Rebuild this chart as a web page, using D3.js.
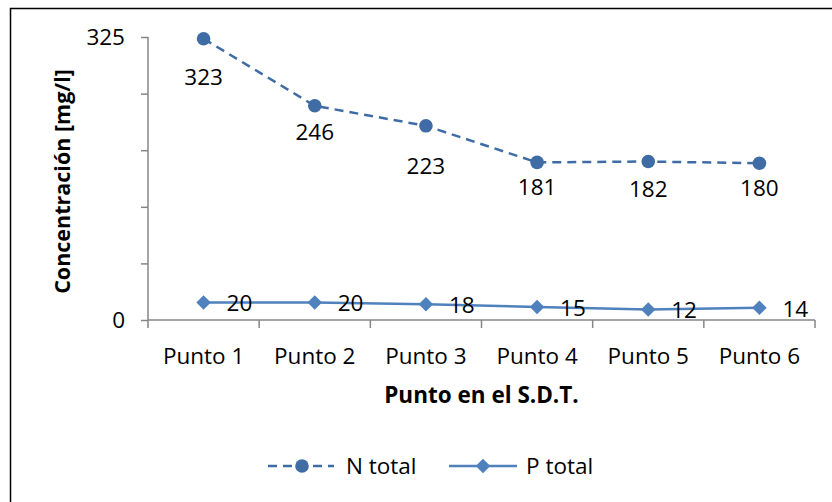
<!DOCTYPE html>
<html>
<head>
<meta charset="utf-8">
<script src="https://cdn.jsdelivr.net/npm/d3@7"></script>
<style>
  html, body { margin: 0; padding: 0; background: #fff; }
  svg { display: block; }
  text { font-family: "Open Sans", sans-serif; fill: #000; }
</style>
</head>
<body>
<svg id="chart" width="832" height="502"></svg>
<script>
// Sampling points along the treatment system
const categories = ["Punto 1", "Punto 2", "Punto 3", "Punto 4", "Punto 5", "Punto 6"];
const nTotal = [323, 246, 223, 181, 182, 180];
const pTotal = [20, 20, 18, 15, 12, 14];
const yTicks = [0, 65, 130, 195, 260, 325];
const yTickLabels = ["0", "", "", "", "", "325"];
const seriesNames = ["N total", "P total"];

// Vertical nudge (px) of each N total label below its point
const nLabelDy = [38, 26, 40, 25, 28, 25];

const svg = d3.select("#chart");
const margin = { left: 148, right: 815, top: 37, bottom: 320 };
const colN = "#3F6CA4";
const colP = "#4F81BD";
const axisCol = "#868686";
const fs = "22.5px";

// Chart frame
svg.append("rect")
  .attr("x", 10.5).attr("y", 8.5)
  .attr("width", 840).attr("height", 520)
  .attr("fill", "none").attr("stroke", "#000").attr("stroke-width", 1.5);

const x = d3.scaleBand().domain(categories).range([margin.left, margin.right]);
const y = d3.scaleLinear().domain([0, 325]).range([margin.bottom, margin.top]);

// Y axis
const yAxis = d3.axisLeft(y)
  .tickValues(yTicks)
  .tickSize(7)
  .tickPadding(16)
  .tickFormat((d, i) => yTickLabels[i]);
const gy = svg.append("g").attr("transform", `translate(${margin.left},0)`).call(yAxis);
gy.select(".domain").attr("stroke", axisCol).attr("stroke-width", 1.5).attr("d", `M0,${margin.top}V${margin.bottom}`);
gy.selectAll(".tick line").attr("stroke", axisCol).attr("stroke-width", 1.5);
gy.selectAll(".tick text").style("font-size", fs).attr("dy", "0.35em");

// X axis with ticks at category boundaries
const gx = svg.append("g").attr("transform", `translate(0,${margin.bottom})`);
gx.append("line")
  .attr("x1", margin.left).attr("x2", margin.right)
  .attr("stroke", axisCol).attr("stroke-width", 1.5);
const bounds = categories.map(c => x(c)).concat([x(categories[categories.length - 1]) + x.bandwidth()]);
gx.selectAll("line.tk").data(bounds).enter().append("line")
  .attr("class", "tk")
  .attr("x1", d => d).attr("x2", d => d)
  .attr("y1", 0).attr("y2", 8)
  .attr("stroke", axisCol).attr("stroke-width", 1.5);
gx.selectAll("text").data(categories).enter().append("text")
  .attr("x", d => x(d) + x.bandwidth() / 2)
  .attr("y", 36)
  .attr("dy", "0.35em")
  .attr("text-anchor", "middle")
  .style("font-size", fs)
  .text(d => d);

const cx = (d, i) => x(categories[i]) + x.bandwidth() / 2;
const diamond = d3.symbol(d3.symbolSquare, 105)();

// P total: solid line with diamonds
const lineP = d3.line().x((d, i) => cx(d, i)).y(d => y(d));
svg.append("path").datum(pTotal)
  .attr("d", lineP).attr("fill", "none")
  .attr("stroke", colP).attr("stroke-width", 2.5);
svg.selectAll("path.dp").data(pTotal).enter().append("path")
  .attr("class", "dp")
  .attr("transform", (d, i) => `translate(${cx(d, i)},${y(d)}) rotate(45)`)
  .attr("d", diamond)
  .attr("fill", colP);
svg.selectAll("text.lp").data(pTotal).enter().append("text")
  .attr("class", "lp")
  .attr("x", (d, i) => cx(d, i) + 23)
  .attr("y", d => y(d) + 1)
  .attr("dy", "0.35em")
  .style("font-size", fs)
  .text(d => d);

// N total: dashed line with circles
const lineN = d3.line().x((d, i) => cx(d, i)).y(d => y(d));
svg.append("path").datum(nTotal)
  .attr("d", lineN).attr("fill", "none")
  .attr("stroke", colN).attr("stroke-width", 2.5)
  .attr("stroke-dasharray", "9,6");
svg.selectAll("circle.dn").data(nTotal).enter().append("circle")
  .attr("class", "dn")
  .attr("cx", (d, i) => cx(d, i)).attr("cy", d => y(d))
  .attr("r", 6.8).attr("fill", colN);
svg.selectAll("text.ln").data(nTotal).enter().append("text")
  .attr("class", "ln")
  .attr("x", (d, i) => cx(d, i))
  .attr("y", (d, i) => y(d) + nLabelDy[i])
  .attr("dy", "0.35em")
  .attr("text-anchor", "middle")
  .style("font-size", fs)
  .text(d => d);

// Axis titles
svg.append("text")
  .attr("transform", `translate(62,${(margin.top + margin.bottom) / 2 + 3}) rotate(-90)`)
  .attr("text-anchor", "middle")
  .attr("dy", "0.35em")
  .style("font-size", "21.5px").style("font-weight", "bold")
  .text("Concentración [mg/l]");
svg.append("text")
  .attr("x", (margin.left + margin.right) / 2).attr("y", 395)
  .attr("dy", "0.35em")
  .attr("text-anchor", "middle")
  .style("font-size", "22.5px").style("font-weight", "bold")
  .text("Punto en el S.D.T.");

// Legend
const lg = svg.append("g").attr("transform", "translate(0,466)");
lg.append("line").attr("x1", 268).attr("x2", 334)
  .attr("stroke", colN).attr("stroke-width", 2.5).attr("stroke-dasharray", "9,6");
lg.append("circle").attr("cx", 302).attr("cy", 0).attr("r", 6.8).attr("fill", colN);
lg.append("text").attr("x", 346).attr("y", 0).attr("dy", "0.35em")
  .style("font-size", fs).text(seriesNames[0]);
lg.append("line").attr("x1", 449).attr("x2", 517)
  .attr("stroke", colP).attr("stroke-width", 2.5);
lg.append("path").attr("transform", "translate(483,0) rotate(45)")
  .attr("d", diamond).attr("fill", colP);
lg.append("text").attr("x", 526).attr("y", 0).attr("dy", "0.35em")
  .style("font-size", fs).text(seriesNames[1]);
</script>
</body>
</html>
